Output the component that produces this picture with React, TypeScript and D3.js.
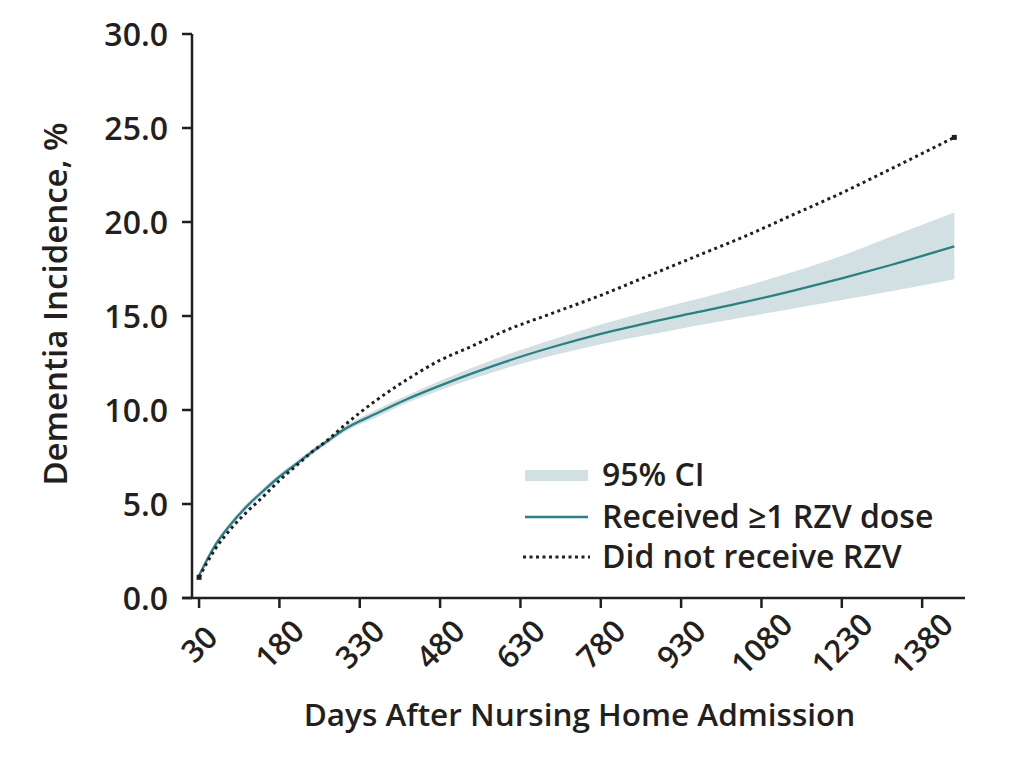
import * as d3 from "d3";

const DAYS = [30, 60, 90, 120, 150, 180, 210, 240, 270, 300, 360, 420, 480, 540, 600, 690, 780, 870, 960, 1050, 1140, 1230, 1320, 1440];
const RECEIVED = [1.2, 2.8, 3.95, 4.9, 5.7, 6.45, 7.1, 7.75, 8.35, 8.95, 9.8, 10.6, 11.3, 11.95, 12.55, 13.35, 14.05, 14.65, 15.2, 15.75, 16.35, 17.0, 17.7, 18.7];
const CI_LOWER = [1.05, 2.65, 3.8, 4.75, 5.55, 6.3, 6.95, 7.6, 8.2, 8.8, 9.6, 10.4, 11.05, 11.65, 12.2, 12.9, 13.5, 14.0, 14.5, 14.95, 15.4, 15.85, 16.3, 16.95];
const CI_UPPER = [1.35, 2.95, 4.1, 5.05, 5.85, 6.6, 7.25, 7.9, 8.5, 9.1, 10.0, 10.8, 11.55, 12.25, 12.9, 13.75, 14.55, 15.25, 15.9, 16.6, 17.35, 18.2, 19.2, 20.5];
const NOT_RECEIVED = [1.1, 2.6, 3.7, 4.6, 5.4, 6.25, 7.0, 7.75, 8.4, 9.15, 10.5, 11.65, 12.65, 13.4, 14.2, 15.15, 16.1, 17.15, 18.2, 19.25, 20.4, 21.55, 22.8, 24.5];

const X_TICKS = [30, 180, 330, 480, 630, 780, 930, 1080, 1230, 1380];
const Y_TICKS = [0, 5, 10, 15, 20, 25, 30];

const LEGEND = ["95% CI", "Received \u22651 RZV dose", "Did not receive RZV"];

const INK = "#231f20";
const TEAL = "#2a8083";
const BAND = "#d3e0e3";
const FONT = "'Open Sans', 'DejaVu Sans', sans-serif";

const W = 1024;
const H = 763;
const Y_AXIS_X = 192;
const DOTS = "3 3.5";

export default function App() {
  const x = d3.scaleLinear().domain([0, 1460]).range([183, 965]);
  const y = d3.scaleLinear().domain([0, 30]).range([598, 34]);

  const pts = DAYS.map((d, i) => ({
    d,
    rec: RECEIVED[i],
    lo: CI_LOWER[i],
    hi: CI_UPPER[i],
    not: NOT_RECEIVED[i],
  }));

  const band = d3
    .area<(typeof pts)[number]>()
    .x((p) => x(p.d))
    .y0((p) => y(p.lo))
    .y1((p) => y(p.hi))
    .curve(d3.curveMonotoneX);

  const recLine = d3
    .line<(typeof pts)[number]>()
    .x((p) => x(p.d))
    .y((p) => y(p.rec))
    .curve(d3.curveMonotoneX);

  const notLine = d3
    .line<(typeof pts)[number]>()
    .x((p) => x(p.d))
    .y((p) => y(p.not))
    .curve(d3.curveMonotoneX);

  const first = pts[0];
  const last = pts[pts.length - 1];

  return (
    <div style={{ position: "absolute", left: 0, top: 0 }}>
      <svg width={W} height={H} style={{ display: "block", background: "#fff" }}>
        {/* band + lines */}
        <path d={band(pts) ?? ""} fill={BAND} />
        <path d={recLine(pts) ?? ""} fill="none" stroke={TEAL} strokeWidth={2.3} />
        <path
          d={notLine(pts) ?? ""}
          fill="none"
          stroke={INK}
          strokeWidth={3}
          strokeDasharray={DOTS}
        />
        <rect x={x(first.d) - 2.5} y={y(first.not) - 2.5} width={5} height={5} fill={INK} />
        <rect x={x(last.d) - 2.5} y={y(last.not) - 2.5} width={5} height={5} fill={INK} />

        {/* y axis */}
        <line x1={Y_AXIS_X} x2={Y_AXIS_X} y1={y(30)} y2={y(0)} stroke={INK} strokeWidth={2.5} />
        {Y_TICKS.map((t) => (
          <g key={t} transform={`translate(0,${y(t)})`}>
            <line x1={Y_AXIS_X - 10} x2={Y_AXIS_X} stroke={INK} strokeWidth={2.5} />
            <text
              x={168}
              dy="0.36em"
              textAnchor="end"
              fontFamily={FONT}
              fontWeight={600}
              fontSize={32}
              fill={INK}
            >
              {t.toFixed(1)}
            </text>
          </g>
        ))}
        <text
          transform={`translate(67,${(120 + 488) / 2}) rotate(-90)`}
          textAnchor="middle"
          fontFamily={FONT}
          fontWeight={600}
          fontSize={33}
          fill={INK}
        >
          Dementia Incidence, %
        </text>

        {/* x axis */}
        <line x1={x(0) - 1} x2={x(1460)} y1={y(0)} y2={y(0)} stroke={INK} strokeWidth={2.5} />
        {X_TICKS.map((t) => (
          <g key={t}>
            <line x1={x(t)} x2={x(t)} y1={y(0)} y2={y(0) + 10} stroke={INK} strokeWidth={2.5} />
            <text
              transform={`translate(${x(t)},644) rotate(-45)`}
              textAnchor="middle"
              dy="0.36em"
              fontFamily={FONT}
              fontWeight={600}
              fontSize={31}
              fill={INK}
            >
              {t}
            </text>
          </g>
        ))}
        <text
          x={(307 + 852) / 2}
          y={726}
          textAnchor="middle"
          fontFamily={FONT}
          fontWeight={600}
          fontSize={31.5}
          fill={INK}
        >
          Days After Nursing Home Admission
        </text>

        {/* legend */}
        <g fontFamily={FONT} fontWeight={600} fontSize={32} fill={INK}>
          <rect x={525} y={470} width={63} height={11} fill={BAND} />
          <text x={602} y={486}>{LEGEND[0]}</text>
          <line x1={525} x2={588} y1={517} y2={517} stroke={TEAL} strokeWidth={2.3} />
          <text x={602} y={528}>{LEGEND[1]}</text>
          <line
            x1={523}
            x2={590}
            y1={557}
            y2={557}
            stroke={INK}
            strokeWidth={3}
            strokeDasharray={DOTS}
          />
          <text x={602} y={568}>{LEGEND[2]}</text>
        </g>
      </svg>
    </div>
  );
}
